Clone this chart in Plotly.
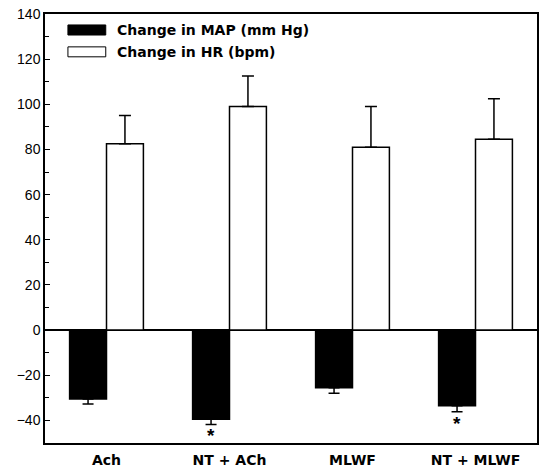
import plotly.graph_objects as go

categories = ["Ach", "NT + ACh", "MLWF", "NT + MLWF"]
series_names = ["Change in MAP (mm Hg)", "Change in HR (bpm)"]
map_values = [-30.5, -39.5, -25.5, -33.5]
map_errors = [2.2, 2.3, 2.5, 2.7]
hr_values = [82.5, 99.0, 81.0, 84.5]
hr_errors = [12.5, 13.5, 18.0, 18.0]
significant = [False, True, False, True]
y_tick_values = [-40, -20, 0, 20, 40, 60, 80, 100, 120, 140]

FONT = "Liberation Sans, Arial, Helvetica, sans-serif"
BOLD_FONT = "DejaVu Sans, Liberation Sans, Arial, sans-serif"

fig = go.Figure()
fig.add_trace(go.Bar(
    x=categories, y=map_values, name=series_names[0],
    marker=dict(color="black", line=dict(color="black", width=1.5)),
    error_y=dict(type="data", symmetric=False,
                 array=[0] * len(map_errors), arrayminus=map_errors,
                 color="black", thickness=1.5, width=5.5),
    showlegend=False,
))
fig.add_trace(go.Bar(
    x=categories, y=hr_values, name=series_names[1],
    marker=dict(color="white", line=dict(color="black", width=1.5)),
    error_y=dict(type="data", symmetric=False,
                 array=hr_errors, arrayminus=[0] * len(hr_errors),
                 color="black", thickness=1.5, width=6),
    showlegend=False,
))

# significance stars under the MAP error bars
for cat, v, e, s in zip(categories, map_values, map_errors, significant):
    if s:
        fig.add_annotation(x=cat, y=v - e, xref="x", yref="y", text="<b>*</b>",
                           showarrow=False, xshift=-18.5, yanchor="top", yshift=1,
                           font=dict(family=FONT, size=19, color="black"))

# legend drawn as swatches + text
swatch_fill = ["black", "white"]
sw_y = [(0.951, 0.9745), (0.9002, 0.9234)]
txt_y = [0.9617, 0.9118]
for name, fill, (y0, y1), ty in zip(series_names, swatch_fill, sw_y, txt_y):
    fig.add_shape(type="rect", xref="paper", yref="paper",
                  x0=0.0466, x1=0.1235, y0=y0, y1=y1,
                  fillcolor=fill, line=dict(color="black", width=1))
    fig.add_annotation(x=0.1417, y=ty, xref="paper", yref="paper", text="<b>%s</b>" % name,
                       showarrow=False, xanchor="left", yanchor="middle",
                       font=dict(family=BOLD_FONT, size=14, color="black"))

fig.update_layout(
    width=541, height=470,
    margin=dict(l=45, r=2, t=14, b=25),
    paper_bgcolor="white", plot_bgcolor="white",
    barmode="group", bargap=0.4, bargroupgap=0,
    font=dict(family=FONT, size=14, color="black"),
    showlegend=False,
)
fig.update_xaxes(
    showline=True, linecolor="black", linewidth=1.5, mirror=True,
    ticks="", showgrid=False, ticklabelstandoff=3,
    tickfont=dict(family=BOLD_FONT, size=14, color="black", weight="bold"),
)
fig.update_yaxes(
    range=[-50, 140], tickvals=y_tick_values,
    showline=True, linecolor="black", linewidth=1.5, mirror=True,
    ticks="inside", ticklen=5, tickwidth=1.2, tickcolor="black",
    minor=dict(dtick=10, ticks="inside", ticklen=4, tickwidth=1, tickcolor="black"),
    showgrid=False,
    zeroline=True, zerolinecolor="black", zerolinewidth=1.5,
    tickfont=dict(family=FONT, size=14, color="black"),
)

fig.write_html("out.html", config={"displayModeBar": False},
               post_script="document.body.style.margin='0';document.body.style.padding='0';")
